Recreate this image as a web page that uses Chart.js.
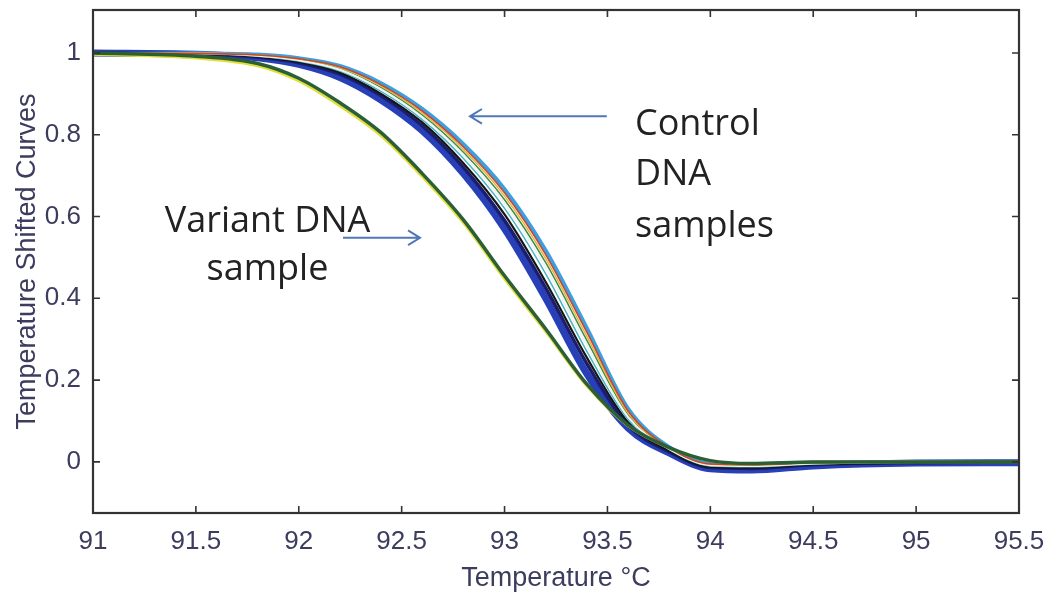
<!DOCTYPE html>
<html>
<head>
<meta charset="utf-8">
<title>Melt curves</title>
<script src="https://cdn.jsdelivr.net/npm/chart.js@4.4.1/dist/chart.umd.min.js"></script>
<style>
  html, body { margin: 0; padding: 0; background: #fff; }
  #wrap { width: 1055px; height: 597px; }
</style>
</head>
<body>
<div id="wrap"><canvas id="melt" width="1055" height="597"></canvas></div>
<script>
// temperature samples (deg C)
var temps = [91, 91.5, 91.8, 92, 92.2, 92.4, 92.6, 92.8, 93, 93.2, 93.4, 93.6, 93.8, 94, 94.2, 94.5, 95, 95.5];

// control replicates, normalised & temperature shifted
var ctrlBlue   = [1.0, 0.997, 0.988, 0.972, 0.940, 0.885, 0.810, 0.705, 0.570, 0.400, 0.215, 0.083, 0.022, -0.017, -0.020, -0.010, -0.003, -0.002];
var ctrlNavy   = [1.0, 0.998, 0.990, 0.976, 0.948, 0.895, 0.822, 0.720, 0.590, 0.425, 0.240, 0.090, 0.025, -0.014, -0.016, -0.007, -0.002, -0.001];
var ctrlBlack  = [1.0, 0.998, 0.991, 0.978, 0.952, 0.900, 0.830, 0.730, 0.605, 0.440, 0.255, 0.097, 0.027, -0.012, -0.014, -0.006, -0.001, 0];
var ctrlCyan   = [1.0, 0.998, 0.992, 0.980, 0.956, 0.906, 0.837, 0.742, 0.620, 0.460, 0.270, 0.104, 0.030, -0.010, -0.012, -0.005, 0, 0];
var ctrlWhite  = [1.0, 0.999, 0.993, 0.982, 0.959, 0.911, 0.843, 0.750, 0.632, 0.475, 0.285, 0.110, 0.032, -0.008, -0.010, -0.004, 0, 0];
var ctrlGreen  = [1.0, 0.999, 0.994, 0.983, 0.961, 0.915, 0.848, 0.757, 0.641, 0.487, 0.297, 0.115, 0.033, -0.007, -0.009, -0.003, 0, 0];
var ctrlYellow = [1.0, 0.999, 0.995, 0.985, 0.964, 0.919, 0.853, 0.764, 0.650, 0.497, 0.307, 0.120, 0.034, -0.006, -0.008, -0.003, 0, 0];
var ctrlRed    = [1.0, 0.999, 0.995, 0.986, 0.966, 0.922, 0.858, 0.770, 0.658, 0.507, 0.317, 0.125, 0.035, -0.005, -0.007, -0.002, 0, 0];
var ctrlSky    = [1.0, 0.999, 0.996, 0.987, 0.968, 0.926, 0.863, 0.777, 0.667, 0.517, 0.327, 0.130, 0.036, -0.004, -0.006, -0.002, 0, 0];

// variant sample (two traces)
var variantA   = [1.0, 0.992, 0.974, 0.938, 0.878, 0.805, 0.705, 0.592, 0.455, 0.325, 0.190, 0.090, 0.035, 0.003, -0.004, 0, 0, 0];
var variantB   = [0.996, 0.987, 0.968, 0.931, 0.870, 0.797, 0.697, 0.584, 0.447, 0.318, 0.185, 0.088, 0.034, 0.003, -0.004, 0, 0, 0];

var xTicks = [91, 91.5, 92, 92.5, 93, 93.5, 94, 94.5, 95, 95.5];
var yTicks = [0, 0.2, 0.4, 0.6, 0.8, 1];

function pts(vals) {
    return vals.map(function (v, i) { return { x: temps[i], y: v }; });
}

function line(vals, color, width) {
    return { data: pts(vals), borderColor: color, borderWidth: width, fill: false };
}

// first dataset is drawn on top
var datasets = [
    line(variantA, '#2b5f36', 3.5),
    line(variantB, '#e3df3a', 2.5),
    line(ctrlRed, '#c9472c', 1.6),
    line(ctrlYellow, '#e2b23a', 1.4),
    line(ctrlWhite, '#f2f2f2', 2),
    line(ctrlGreen, '#3b8d45', 1.5),
    line(ctrlCyan, '#49b3c6', 1.5),
    line(ctrlBlack, '#151515', 2.2),
    line(ctrlNavy, '#1b1d6e', 3.5),
    line(ctrlSky, '#3d9fe0', 4),
    line(ctrlBlue, '#2740b8', 7)
];

// MATLAB style box with inward ticks
var framePlugin = {
    id: 'frame',
    afterDraw: function (chart) {
        var ctx = chart.ctx, a = chart.chartArea;
        var xs = chart.scales.x, ys = chart.scales.y;
        var len = 7;
        ctx.save();
        ctx.strokeStyle = '#333';
        ctx.lineWidth = 1.6;
        ctx.beginPath();
        xTicks.forEach(function (v) {
            var px = xs.getPixelForValue(v);
            ctx.moveTo(px, a.bottom); ctx.lineTo(px, a.bottom - len);
            ctx.moveTo(px, a.top); ctx.lineTo(px, a.top + len);
        });
        yTicks.forEach(function (v) {
            var py = ys.getPixelForValue(v);
            ctx.moveTo(a.left, py); ctx.lineTo(a.left + len, py);
            ctx.moveTo(a.right, py); ctx.lineTo(a.right - len, py);
        });
        ctx.stroke();
        ctx.lineWidth = 2.2;
        ctx.strokeRect(a.left, a.top, a.right - a.left, a.bottom - a.top);
        ctx.restore();
    }
};

function arrow(ctx, x1, y1, x2, y2) {
    var ang = Math.atan2(y2 - y1, x2 - x1);
    ctx.beginPath();
    ctx.moveTo(x1, y1);
    ctx.lineTo(x2, y2);
    ctx.moveTo(x2 - 14 * Math.cos(ang - 0.55), y2 - 14 * Math.sin(ang - 0.55));
    ctx.lineTo(x2, y2);
    ctx.lineTo(x2 - 14 * Math.cos(ang + 0.55), y2 - 14 * Math.sin(ang + 0.55));
    ctx.stroke();
}

// callout labels, positioned in data units
var notesPlugin = {
    id: 'notes',
    afterDraw: function (chart) {
        var ctx = chart.ctx;
        var X = function (v) { return chart.scales.x.getPixelForValue(v); };
        var Y = function (v) { return chart.scales.y.getPixelForValue(v); };
        ctx.save();
        ctx.strokeStyle = '#4f78b8';
        ctx.lineWidth = 2;
        arrow(ctx, X(93.497), Y(0.845), X(92.832), Y(0.845));
        arrow(ctx, X(92.215), Y(0.548), X(92.589), Y(0.548));

        ctx.fillStyle = '#222';
        ctx.font = '36px "Open Sans"';
        ctx.textBaseline = 'alphabetic';
        ctx.textAlign = 'left';
        ctx.fillText('Control', X(93.634), Y(0.80));
        ctx.fillText('DNA', X(93.634), Y(0.678));
        ctx.fillText('samples', X(93.634), Y(0.551));
        ctx.textAlign = 'center';
        ctx.fillText('Variant DNA', X(91.848), Y(0.561));
        ctx.fillText('sample', X(91.848), Y(0.4455));
        ctx.restore();
    }
};

var tickFont = { family: '"Liberation Sans", Arial, sans-serif', size: 26 };
var tickColor = '#3c3c5e';

new Chart(document.getElementById('melt'), {
    type: 'line',
    data: { datasets: datasets },
    plugins: [framePlugin, notesPlugin],
    options: {
        responsive: false,
        animation: false,
        layout: { padding: { top: 10, right: 36, left: 0, bottom: 0 } },
        elements: {
            point: { radius: 0 },
            line: { cubicInterpolationMode: 'monotone' }
        },
        plugins: { legend: { display: false }, tooltip: { enabled: false } },
        scales: {
            x: {
                type: 'linear',
                min: 91,
                max: 95.5,
                grid: { display: false },
                border: { display: false },
                afterBuildTicks: function (s) { s.ticks = xTicks.map(function (v) { return { value: v }; }); },
                afterFit: function (s) { s.height = 84; s.paddingLeft = 0; s.paddingRight = 0; },
                ticks: {
                    font: tickFont, color: tickColor, padding: 5, maxRotation: 0, autoSkip: false,
                    callback: function (v) { return String(v); }
                },
                title: {
                    display: true,
                    text: 'Temperature °C',
                    font: { family: '"Liberation Sans", Arial, sans-serif', size: 27 },
                    color: '#3c3c5e',
                    padding: { top: 0, bottom: 2 }
                }
            },
            y: {
                type: 'linear',
                min: -0.125,
                max: 1.105,
                grid: { display: false },
                border: { display: false },
                afterBuildTicks: function (s) { s.ticks = yTicks.map(function (v) { return { value: v }; }); },
                afterFit: function (s) { s.width = 93; s.paddingTop = 0; s.paddingBottom = 0; },
                ticks: {
                    font: tickFont, color: tickColor, padding: 4,
                    callback: function (v) { return String(v); }
                },
                title: {
                    display: true,
                    text: 'Temperature Shifted Curves',
                    font: { family: '"Liberation Sans", Arial, sans-serif', size: 27 },
                    color: '#3c3c5e',
                    padding: { top: 11, bottom: 0 }
                }
            }
        }
    }
});
</script>
</body>
</html>
